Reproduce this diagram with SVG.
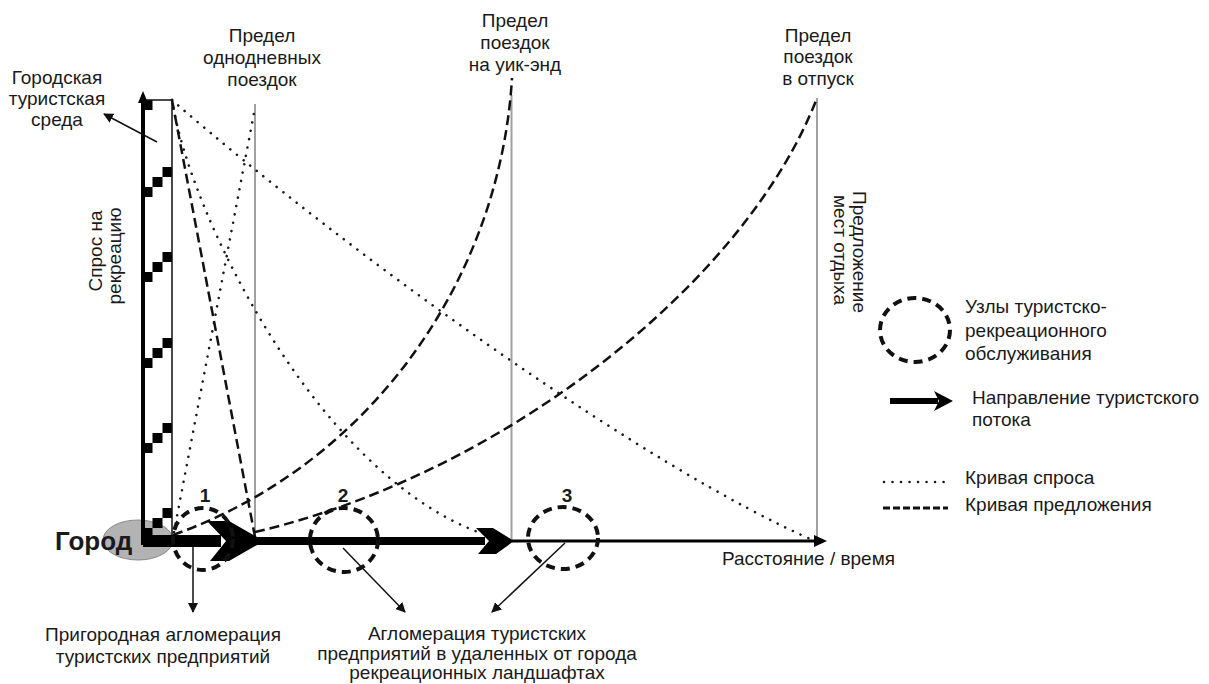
<svg xmlns="http://www.w3.org/2000/svg" width="1209" height="684" viewBox="0 0 1209 684">
<defs>
<style>
text{font-family:"Liberation Sans",Arial,sans-serif;font-size:19px;fill:#1a1a1a}
.mid{text-anchor:middle}
.bold{font-weight:bold}
.limit{stroke:#a0a0a0;stroke-width:2;fill:none}
.dot{stroke:#1a1a1a;stroke-width:2.6;fill:none;stroke-dasharray:0.01 8.5;stroke-linecap:round}
.dash{stroke:#111;stroke-width:2.5;fill:none;stroke-dasharray:10 5}
.node{stroke:#111;stroke-width:4;fill:none;stroke-dasharray:9 6}
.sq{fill:#000}
.thin{stroke:#111;stroke-width:1.5;fill:none}
</style>
<marker id="ah" viewBox="0 0 10 10" refX="9" refY="5" markerWidth="10" markerHeight="10" markerUnits="userSpaceOnUse" orient="auto">
<path d="M0,0 L10,5 L0,10 z" fill="#111"/>
</marker>
</defs>
<rect width="1209" height="684" fill="#fff"/>

<g id="city">
<ellipse cx="138" cy="540" rx="35" ry="20" fill="#b3b3b3" stroke="#8a8a8a" stroke-width="1"/>
</g>

<g id="urban-environment">
<rect class="sq" x="143" y="100" width="9.5" height="10"/>
<rect class="sq" x="162.5" y="167" width="9.5" height="10"/>
<rect class="sq" x="152.5" y="177" width="10" height="10"/>
<rect class="sq" x="143" y="187" width="9.5" height="10"/>
<rect class="sq" x="162.5" y="252" width="9.5" height="10"/>
<rect class="sq" x="152.5" y="262" width="10" height="10"/>
<rect class="sq" x="143" y="272" width="9.5" height="10"/>
<rect class="sq" x="162.5" y="338" width="9.5" height="10"/>
<rect class="sq" x="152.5" y="348" width="10" height="10"/>
<rect class="sq" x="143" y="358" width="9.5" height="10"/>
<rect class="sq" x="162.5" y="423" width="9.5" height="10"/>
<rect class="sq" x="152.5" y="433" width="10" height="10"/>
<rect class="sq" x="143" y="443" width="9.5" height="10"/>
<rect class="sq" x="162.5" y="508" width="9.5" height="10"/>
<rect class="sq" x="152.5" y="518" width="10" height="10"/>
<rect class="sq" x="143" y="528" width="9.5" height="10"/>
<path class="thin" d="M143,100 H172 V541"/>
</g>

<g id="limits">
<line class="limit" x1="255" y1="104" x2="255" y2="541"/>
<line class="limit" x1="511.5" y1="95" x2="511.5" y2="541"/>
<line class="limit" x1="817" y1="98" x2="817" y2="541"/>
</g>

<g id="curves">
<path class="dot" d="M172,100 C190,215 315,470 478,532"/>
<path class="dot" d="M172,100 C350,255 650,470 815,541"/>
<path class="dot" d="M174,532 L255,108"/>
<path class="dash" d="M172,100 L255,537"/>
<path class="dash" d="M173,535 C370,465 500,280 512,78"/>
<path class="dash" d="M255,532 C500,475 745,285 817,98"/>
</g>

<g id="axes">
<line x1="143" y1="545" x2="143" y2="100" stroke="#000" stroke-width="4"/>
<polygon points="143,91 138,103 148,103" fill="#000"/>
</g>

<g id="flow">
<rect x="143" y="535" width="78" height="12" fill="#000"/>
<polygon points="207,521 229,521 264,541 229,561 210,561 226,541" fill="#000"/>
<rect x="255" y="537" width="230" height="8" fill="#000"/>
<polygon points="476,528 493,528 514,541 496,554 478,554 489,541" fill="#000"/>
<line x1="512" y1="541" x2="816" y2="541" stroke="#000" stroke-width="3"/>
<polygon points="827,541 814,535 814,547" fill="#000"/>
</g>

<g id="node1">
<ellipse class="node" cx="203" cy="539" rx="30" ry="31"/>
<text class="mid bold" x="205" y="502">1</text>
</g>
<g id="node2">
<ellipse class="node" cx="344" cy="540" rx="34" ry="32"/>
<text class="mid bold" x="343" y="502">2</text>
</g>
<g id="node3">
<ellipse class="node" cx="563" cy="538" rx="35" ry="31"/>
<text class="mid bold" x="567" y="502">3</text>
</g>

<g id="connectors">
<line class="thin" x1="157" y1="142" x2="104" y2="114" marker-end="url(#ah)"/>
<line class="thin" x1="193" y1="547" x2="193" y2="612" marker-end="url(#ah)"/>
<line class="thin" x1="343" y1="548" x2="405" y2="612" marker-end="url(#ah)"/>
<line class="thin" x1="565" y1="543" x2="492" y2="612" marker-end="url(#ah)"/>
</g>

<g id="labels">
<text class="bold" x="55" y="550" style="font-size:26px">Город</text>
<text class="mid" x="57" y="84">Городская</text>
<text class="mid" x="57" y="105">туристская</text>
<text class="mid" x="57" y="126">среда</text>
<text class="mid" transform="translate(102,251) rotate(-90)">Спрос на</text>
<text class="mid" transform="translate(121,256) rotate(-90)">рекреацию</text>
<text class="mid" x="262" y="42">Предел</text>
<text class="mid" x="262" y="64">однодневных</text>
<text class="mid" x="262" y="86">поездок</text>
<text class="mid" x="515" y="27">Предел</text>
<text class="mid" x="515" y="49">поездок</text>
<text class="mid" x="515" y="71">на уик-энд</text>
<text class="mid" x="818" y="42">Предел</text>
<text class="mid" x="818" y="63">поездок</text>
<text class="mid" x="818" y="85">в отпуск</text>
<text class="mid" transform="translate(853,252) rotate(90)">Предложение</text>
<text class="mid" transform="translate(834,250) rotate(90)">мест отдыха</text>
<text x="722" y="565">Расстояние / время</text>
<text class="mid" x="163" y="641">Пригородная агломерация</text>
<text class="mid" x="163" y="663">туристских предприятий</text>
<text class="mid" x="477" y="640">Агломерация туристских</text>
<text class="mid" x="477" y="660">предприятий в удаленных от города</text>
<text class="mid" x="477" y="679">рекреационных ландшафтах</text>
</g>

<g id="legend">
<ellipse class="node" cx="915" cy="330" rx="35" ry="32"/>
<text x="965" y="313">Узлы туристско-</text>
<text x="965" y="337">рекреационного</text>
<text x="965" y="360">обслуживания</text>
<rect x="890" y="398" width="48" height="6" fill="#000"/>
<polygon points="934,391 953,401 934,411 939,401" fill="#000"/>
<text x="972" y="404">Направление туристского</text>
<text x="972" y="426">потока</text>
<line class="dot" x1="884" y1="482" x2="948" y2="482"/>
<text x="965" y="484">Кривая спроса</text>
<line x1="883" y1="508" x2="948" y2="508" stroke="#111" stroke-width="3" stroke-dasharray="7 3"/>
<text x="965" y="511">Кривая предложения</text>
</g>
</svg>
